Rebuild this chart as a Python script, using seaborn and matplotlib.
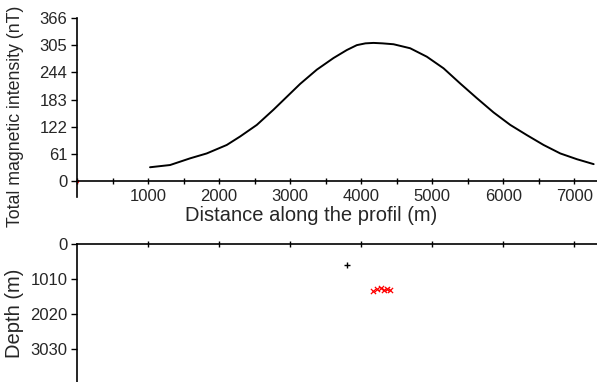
import matplotlib
matplotlib.use("Agg")
import matplotlib.pyplot as plt
import seaborn as sns
import pandas as pd
from matplotlib.ticker import MultipleLocator, FixedLocator

sns.set_theme(style="white")
plt.rcParams["font.family"] = ["Liberation Sans", "DejaVu Sans"]

# Total-field magnetic anomaly along the profile
distance_m = [1028, 1310, 1592, 1826, 2108, 2296, 2531, 2765, 2953, 3141,
              3376, 3610, 3798, 3939, 4060, 4174, 4300, 4456, 4690, 4925,
              5160, 5394, 5629, 5864, 6099, 6334, 6568, 6803, 7038, 7273]
intensity_nT = [31, 36, 51, 62, 81, 100, 126, 160, 189, 218,
                250, 276, 294, 305, 309, 310, 309, 307, 298, 279,
                253, 219, 186, 154, 126, 103, 81, 62, 49, 38]

# Source position solutions below the profile
single_x = [3803]
single_depth = [606]
cluster_x = [4169, 4225, 4282, 4324, 4366, 4408]
cluster_depth = [1356, 1299, 1270, 1327, 1299, 1327]

y_ticks_top = [0, 61, 122, 183, 244, 305, 366]
x_ticks = [1000, 2000, 3000, 4000, 5000, 6000, 7000]
depth_ticks = [0, 1010, 2020, 3030]

profile = pd.DataFrame({"distance": distance_m, "intensity": intensity_nT})
single = pd.DataFrame({"x": single_x, "depth": single_depth})
cluster = pd.DataFrame({"x": cluster_x, "depth": cluster_depth})

fig = plt.figure(figsize=(5.97, 3.82), dpi=100)
ax2 = fig.add_axes([0.129, 0.0, 0.871, 0.361])
ax1 = fig.add_axes([0.129, 0.484, 0.871, 0.469])
ax1.patch.set_alpha(0)

# --- upper panel: magnetic profile ---
sns.lineplot(data=profile, x="distance", y="intensity", ax=ax1,
             color="black", linewidth=1.4)
ax1.plot([0], [0], marker="o", markersize=1.5, color="red", linestyle="none")
ax1.set_xlim(0, 7320)
ax1.set_ylim(-36, 366)
ax1.spines["bottom"].set_position(("data", 0))
for s in ["top", "right"]:
    ax1.spines[s].set_visible(False)
for s in ["left", "bottom"]:
    ax1.spines[s].set_color("black")
    ax1.spines[s].set_linewidth(1.2)
ax1.xaxis.set_major_locator(FixedLocator(x_ticks))
ax1.xaxis.set_minor_locator(MultipleLocator(500))
ax1.set_yticks(y_ticks_top)
ax1.set_xticklabels([str(v) for v in x_ticks])
ax1.set_yticklabels([str(v) for v in y_ticks_top])
ax1.tick_params(axis="x", which="both", direction="inout", length=4, width=1,
                color="black", labelsize=12, pad=4, bottom=True)
ax1.tick_params(axis="y", which="both", direction="out", length=4, width=1,
                color="black", labelsize=12, pad=3, left=True)
ax1.set_xlabel("Distance along the profil (m)", fontsize=14.5)
ax1.set_ylabel("Total magnetic intensity (nT)", fontsize=12.8)
ax1.xaxis.set_label_coords(0.45, -0.05)
ax1.yaxis.set_label_coords(-0.102, 0.45)

# --- lower panel: depth solutions ---
sns.scatterplot(data=single, x="x", y="depth", ax=ax2, marker="+",
                color="black", s=20, linewidth=1)
sns.scatterplot(data=cluster, x="x", y="depth", ax=ax2, marker="x",
                color="red", s=14, linewidth=0.9)
ax2.set_xlim(0, 7320)
ax2.set_ylim(3990, 0)
for s in ["bottom", "right"]:
    ax2.spines[s].set_visible(False)
for s in ["left", "top"]:
    ax2.spines[s].set_color("black")
    ax2.spines[s].set_linewidth(1.2)
ax2.xaxis.tick_top()
ax2.set_xticks(x_ticks)
ax2.set_xticklabels([])
ax2.set_yticks(depth_ticks)
ax2.set_yticklabels([str(v) for v in depth_ticks])
ax2.tick_params(axis="x", which="both", direction="inout", length=4, width=1,
                color="black", top=True, bottom=False)
ax2.tick_params(axis="y", direction="out", length=4, width=1, color="black",
                labelsize=12, pad=3, left=True)
ax2.set_xlabel("")
ax2.set_ylabel("Depth (m)", fontsize=14.5)
ax2.yaxis.set_label_coords(-0.102, 0.50)

fig.savefig("out.png", dpi=100)
